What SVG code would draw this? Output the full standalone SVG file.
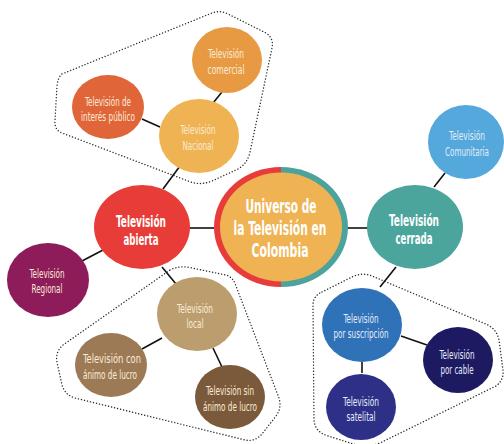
<svg xmlns="http://www.w3.org/2000/svg" width="504" height="444" viewBox="0 0 504 444">
<style>
.grp{fill:none;stroke:#2a2a2a;stroke-width:1.4;stroke-dasharray:0.1 3;stroke-linecap:round;stroke-linejoin:round}
.cn line{stroke:#111;stroke-width:1.6}
text{font-family:"Liberation Sans Narrow","DejaVu Sans Condensed","Liberation Sans",sans-serif;text-anchor:middle}
.t{font-size:12.5px;fill:#FAEBD8}
.tb{font-size:12.5px;fill:#E4ECF8}
.b{font-size:15px;font-weight:bold;fill:#FFFFFF}
.c{font-size:19px;font-weight:bold;fill:#FFFFFF}
</style>
<rect width="504" height="444" fill="#FFFFFF"/>
<g id="groups">
<path class="grp" d="M 62,74 L 212,13 Q 220,10 228,14 L 266,33 Q 274,38 272,48 L 250,152 Q 247,165 236,170 L 212,181 Q 200,186 188,181 L 62,133 Q 54,130 55,120 L 57,86 Q 58,77 62,74 Z"/>
<path class="grp" d="M 170,270 Q 180,265 192,268 L 226,275 Q 233,277 236,286 L 279,398 Q 282,408 276,416 L 262,434 Q 255,442 245,440 L 75,398 Q 65,395 62,385 L 57,362 Q 55,352 63,345 Z"/>
<path class="grp" d="M 322,292 L 352,277 Q 362,272 372,276 L 488,325 Q 497,330 499,340 L 503,370 Q 504,380 496,386 L 380,443 Q 370,447 360,446 L 328,436 Q 315,432 314,420 L 313,305 Q 313,296 322,292 Z"/>
</g>
<g id="connectors" class="cn">
<line x1="189" y1="228" x2="214" y2="228"/>
<line x1="344" y1="228" x2="368" y2="228"/>
<line x1="163" y1="189" x2="180" y2="166"/>
<line x1="213" y1="103" x2="222" y2="92"/>
<line x1="142" y1="119" x2="160" y2="127"/>
<line x1="82" y1="261" x2="103" y2="250"/>
<line x1="162" y1="267" x2="176" y2="284"/>
<line x1="142" y1="349" x2="162" y2="338"/>
<line x1="213" y1="348" x2="222" y2="367"/>
<line x1="434" y1="187" x2="445" y2="173"/>
<line x1="396" y1="267" x2="380" y2="287"/>
<line x1="401" y1="336" x2="427" y2="345"/>
<line x1="362" y1="362" x2="362" y2="373"/>
</g>
<g id="n-centro">
<path d="M 281,167 A 67,60 0 0 0 281,287 Z" fill="#E83C3A"/>
<path d="M 281,167 A 67,60 0 0 1 281,287 Z" fill="#4BA39C"/>
<ellipse cx="281" cy="227" rx="61" ry="54.5" fill="#EFB354"/>
<text class="c" x="281" y="213" textLength="71" lengthAdjust="spacingAndGlyphs">Universo de</text>
<text class="c" x="280" y="235" textLength="93" lengthAdjust="spacingAndGlyphs">la Televisión en</text>
<text class="c" x="280" y="257" textLength="57" lengthAdjust="spacingAndGlyphs">Colombia</text>
</g>
<g id="n-abierta">
<ellipse cx="142" cy="227" rx="48" ry="42" fill="#E83C38"/>
<text class="b" x="141" y="227" textLength="50" lengthAdjust="spacingAndGlyphs">Televisión</text>
<text class="b" x="141" y="245" textLength="35" lengthAdjust="spacingAndGlyphs">abierta</text>
</g>
<g id="n-cerrada">
<ellipse cx="415" cy="227" rx="48" ry="42" fill="#4BA59C"/>
<text class="b" x="414" y="226" textLength="50" lengthAdjust="spacingAndGlyphs">Televisión</text>
<text class="b" x="414" y="244" textLength="37" lengthAdjust="spacingAndGlyphs">cerrada</text>
</g>
<g id="n-nacional">
<ellipse cx="199" cy="136" rx="40" ry="37" fill="#EFB354"/>
<text class="t" x="198" y="134" textLength="35" lengthAdjust="spacingAndGlyphs">Televisión</text>
<text class="t" x="198" y="150" textLength="31" lengthAdjust="spacingAndGlyphs">Nacional</text>
</g>
<g id="n-comercial">
<ellipse cx="227" cy="60" rx="35" ry="33" fill="#E89A43"/>
<text class="t" x="226" y="58" textLength="36" lengthAdjust="spacingAndGlyphs">Televisión</text>
<text class="t" x="226" y="74" textLength="37" lengthAdjust="spacingAndGlyphs">comercial</text>
</g>
<g id="n-publico">
<ellipse cx="108" cy="107" rx="36" ry="32" fill="#E0663A"/>
<text class="t" x="108" y="106" textLength="46" lengthAdjust="spacingAndGlyphs">Televisión de</text>
<text class="t" x="108" y="121" textLength="54" lengthAdjust="spacingAndGlyphs">interés público</text>
</g>
<g id="n-regional">
<ellipse cx="48" cy="280" rx="41" ry="37" fill="#8E1B5A"/>
<text class="t" x="47" y="278" textLength="35" lengthAdjust="spacingAndGlyphs">Televisión</text>
<text class="t" x="47" y="293" textLength="31" lengthAdjust="spacingAndGlyphs">Regional</text>
</g>
<g id="n-local">
<ellipse cx="197" cy="314" rx="40" ry="37" fill="#BC9E6E"/>
<text class="t" x="195" y="313" textLength="36" lengthAdjust="spacingAndGlyphs">Televisión</text>
<text class="t" x="195" y="328" textLength="17" lengthAdjust="spacingAndGlyphs">local</text>
</g>
<g id="n-con-lucro">
<ellipse cx="111" cy="365" rx="36" ry="32" fill="#9C7A56"/>
<text class="t" x="112" y="363" textLength="58" lengthAdjust="spacingAndGlyphs">Televisión con</text>
<text class="t" x="110" y="379" textLength="54" lengthAdjust="spacingAndGlyphs">ánimo de lucro</text>
</g>
<g id="n-sin-lucro">
<ellipse cx="230" cy="397" rx="35" ry="32" fill="#7A5A3A"/>
<text class="t" x="230" y="395" textLength="48" lengthAdjust="spacingAndGlyphs">Televisión sin</text>
<text class="t" x="230" y="411" textLength="54" lengthAdjust="spacingAndGlyphs">ánimo de lucro</text>
</g>
<g id="n-comunitaria">
<ellipse cx="466" cy="142" rx="38" ry="37" fill="#55A8DC"/>
<text class="tb" x="467" y="140" textLength="36" lengthAdjust="spacingAndGlyphs">Televisión</text>
<text class="tb" x="467" y="156" textLength="44" lengthAdjust="spacingAndGlyphs">Comunitaria</text>
</g>
<g id="n-suscripcion">
<ellipse cx="362" cy="325" rx="40" ry="37" fill="#2F72B8"/>
<text class="tb" x="361" y="323" textLength="35" lengthAdjust="spacingAndGlyphs">Televisión</text>
<text class="tb" x="361" y="338" textLength="55" lengthAdjust="spacingAndGlyphs">por suscripción</text>
</g>
<g id="n-cable">
<ellipse cx="458" cy="360" rx="35" ry="33" fill="#1E1A62"/>
<text class="tb" x="457" y="359" textLength="35" lengthAdjust="spacingAndGlyphs">Televisión</text>
<text class="tb" x="457" y="374" textLength="33" lengthAdjust="spacingAndGlyphs">por cable</text>
</g>
<g id="n-satelital">
<ellipse cx="361" cy="407" rx="35" ry="33" fill="#2E3088"/>
<text class="tb" x="361" y="406" textLength="36" lengthAdjust="spacingAndGlyphs">Televisión</text>
<text class="tb" x="361" y="421" textLength="29" lengthAdjust="spacingAndGlyphs">satelital</text>
</g>
</svg>
